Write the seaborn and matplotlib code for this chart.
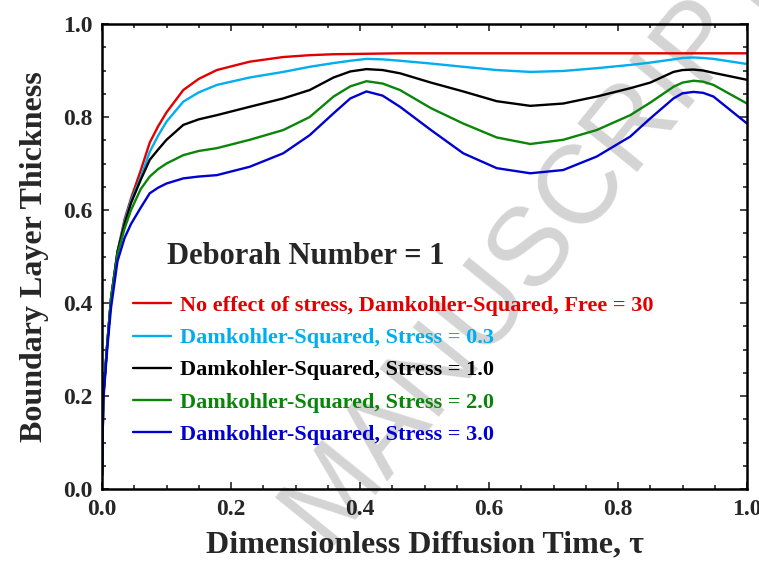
import matplotlib
matplotlib.use("Agg")
import matplotlib.pyplot as plt
import pandas as pd
import seaborn as sns
from matplotlib.ticker import MultipleLocator

# dimensionless diffusion time (shared by all curves)
tau = [0.0, 0.002, 0.008, 0.014, 0.024, 0.035, 0.045, 0.06, 0.074, 0.087,
       0.1, 0.126, 0.15, 0.178, 0.229, 0.281, 0.322, 0.359, 0.385, 0.41,
       0.435, 0.462, 0.51, 0.56, 0.612, 0.664, 0.715, 0.767, 0.819, 0.85,
       0.886, 0.9, 0.917, 0.932, 0.948, 1.0]

# boundary layer thickness for each case
no_stress = [0.03, 0.20, 0.31, 0.41, 0.51, 0.58, 0.625, 0.685, 0.745, 0.78,
             0.81, 0.858, 0.882, 0.901, 0.919, 0.929, 0.933, 0.935, 0.9355, 0.936,
             0.9365, 0.937, 0.937, 0.937, 0.937, 0.937, 0.937, 0.937, 0.937, 0.937,
             0.937, 0.937, 0.937, 0.937, 0.937, 0.937]
stress_03 = [0.03, 0.20, 0.31, 0.41, 0.51, 0.575, 0.62, 0.67, 0.725, 0.76,
             0.79, 0.833, 0.853, 0.869, 0.885, 0.897, 0.908, 0.916, 0.921, 0.925,
             0.924, 0.921, 0.915, 0.908, 0.901, 0.897, 0.899, 0.905, 0.912, 0.917,
             0.924, 0.927, 0.928, 0.927, 0.925, 0.914]
stress_10 = [0.03, 0.20, 0.31, 0.41, 0.51, 0.57, 0.615, 0.665, 0.708, 0.73,
             0.751, 0.783, 0.795, 0.804, 0.822, 0.840, 0.858, 0.885, 0.898, 0.903,
             0.901, 0.894, 0.874, 0.855, 0.834, 0.824, 0.829, 0.844, 0.862, 0.874,
             0.897, 0.901, 0.902, 0.900, 0.895, 0.880]
stress_20 = [0.03, 0.20, 0.31, 0.41, 0.505, 0.56, 0.60, 0.645, 0.672, 0.688,
             0.70, 0.718, 0.727, 0.733, 0.751, 0.772, 0.80, 0.844, 0.866, 0.877,
             0.872, 0.858, 0.819, 0.786, 0.756, 0.742, 0.751, 0.772, 0.804, 0.831,
             0.865, 0.874, 0.878, 0.876, 0.869, 0.829]
stress_30 = [0.03, 0.19, 0.30, 0.39, 0.49, 0.54, 0.57, 0.605, 0.636, 0.648,
             0.657, 0.668, 0.672, 0.675, 0.693, 0.722, 0.761, 0.808, 0.84, 0.855,
             0.846, 0.822, 0.772, 0.722, 0.690, 0.679, 0.686, 0.715, 0.758, 0.797,
             0.840, 0.851, 0.854, 0.852, 0.844, 0.786]

labels = ['No effect of stress, Damkohler-Squared, Free = 30',
          'Damkohler-Squared, Stress = 0.3',
          'Damkohler-Squared, Stress = 1.0',
          'Damkohler-Squared, Stress = 2.0',
          'Damkohler-Squared, Stress = 3.0']
colors = ['#E00000', '#00AEEF', '#000000', '#0A850A', '#0000D0']

# long format for seaborn
series = [no_stress, stress_03, stress_10, stress_20, stress_30]
frames = []
for lab, vals in zip(labels, series):
    frames.append(pd.DataFrame({'tau': tau, 'delta': vals, 'case': lab}))
df = pd.concat(frames, ignore_index=True)

sns.set_theme(style='ticks')
plt.rcParams['font.family'] = ['Liberation Serif', 'DejaVu Serif']
plt.rcParams['font.weight'] = 'bold'

fig = plt.figure(figsize=(7.59, 5.61), dpi=100)
ax = fig.add_axes([0.1344, 0.1283, 0.8498, 0.8289])

# faint watermark behind the curves and labels
ax.text(0.705, 0.57, 'MANUSCRIPT', transform=fig.transFigure, fontsize=80,
        color='#d4d4d4', family='Liberation Sans', fontweight='normal',
        rotation=51, ha='center', va='center', zorder=0.5, clip_on=False)

sns.lineplot(data=df, x='tau', y='delta', hue='case', hue_order=labels,
             palette=colors, linewidth=1.7, ax=ax, sort=False)

ax.set_xlim(0, 1)
ax.set_ylim(0, 1)
ax.xaxis.set_major_locator(MultipleLocator(0.2))
ax.xaxis.set_minor_locator(MultipleLocator(0.05))
ax.yaxis.set_major_locator(MultipleLocator(0.2))
ax.yaxis.set_minor_locator(MultipleLocator(0.05))
ax.tick_params(which='both', direction='in', top=True, right=True,
               width=1.2, labelsize=17, pad=7)
ax.tick_params(which='major', length=5)
ax.tick_params(which='minor', length=3)
for lbl in ax.get_xticklabels() + ax.get_yticklabels():
    lbl.set_fontweight('bold')
for s in ax.spines.values():
    s.set_linewidth(1.8)
    s.set_color('black')

ax.set_xlabel('Dimensionless Diffusion Time, τ', fontsize=23,
              fontweight='bold', labelpad=8)
ax.set_ylabel('Boundary Layer Thickness', fontsize=23,
              fontweight='bold', labelpad=10)

ax.text(0.10, 0.50, 'Deborah Number = 1', fontsize=22, fontweight='bold',
        ha='left', va='center')

leg = ax.legend(loc='upper left', bbox_to_anchor=(0.035, 0.435), frameon=False,
                labelcolor='linecolor', handlelength=1.7, handletextpad=0.4,
                labelspacing=0.52, prop={'size': 16, 'weight': 'bold'},
                borderaxespad=0)

fig.savefig('out.png', dpi=100)
